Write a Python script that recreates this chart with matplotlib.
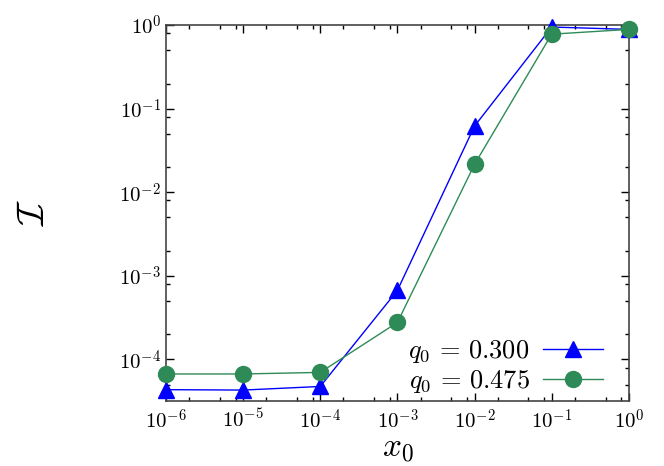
import matplotlib
matplotlib.use("Agg")
import matplotlib.pyplot as plt
import numpy as np
from matplotlib.ticker import LogLocator, NullFormatter, FuncFormatter

plt.rcParams['mathtext.fontset'] = 'cm'
plt.rcParams['font.family'] = 'serif'
plt.rcParams['font.serif'] = ['DejaVu Serif']

x0 = [1e-6, 1e-5, 1e-4, 1e-3, 1e-2, 1e-1, 1e0]
I_q300 = [4.35e-5, 4.3e-5, 4.75e-5, 6.7e-4, 0.062, 0.95, 0.89]
I_q475 = [6.7e-5, 6.7e-5, 7.0e-5, 2.77e-4, 0.0216, 0.78, 0.89]
labels = [r'$q_0\,=\,0.300$', r'$q_0\,=\,0.475$']

fig = plt.figure(figsize=(6.64, 4.66), dpi=100)
ax = fig.add_axes([0.25, 0.139, 0.697, 0.807])

ax.plot(x0, I_q300, color='#0000ff', marker='^', markersize=11.5, lw=1.0,
        label=labels[0], clip_on=False, zorder=3)
ax.plot(x0, I_q475, color='#2e8b57', marker='o', markersize=11.5, lw=1.0,
        label=labels[1], clip_on=False, zorder=4)

ax.set_xscale('log')
ax.set_yscale('log')
ax.set_xlim(1e-6, 1e0)
ax.set_ylim(10**-4.5, 1e0)

def fmt(v, pos):
    e = int(np.round(np.log10(v)))
    return r'$10^{%d}$' % e

ax.xaxis.set_major_locator(LogLocator(base=10, numticks=20))
ax.yaxis.set_major_locator(LogLocator(base=10, numticks=20))
ax.xaxis.set_major_formatter(FuncFormatter(fmt))
ax.yaxis.set_major_formatter(FuncFormatter(fmt))
ax.xaxis.set_minor_locator(LogLocator(base=10, subs=[2, 5, 8], numticks=20))
ax.yaxis.set_minor_locator(LogLocator(base=10, subs=[2, 5, 8], numticks=20))
ax.xaxis.set_minor_formatter(NullFormatter())
ax.yaxis.set_minor_formatter(NullFormatter())

ax.tick_params(which='both', direction='in', top=True, right=True, labelsize=15)
ax.tick_params(which='major', length=6, width=1)
ax.tick_params(which='minor', length=3, width=1)
ax.tick_params(axis='x', pad=5)
for s in ax.spines.values():
    s.set_linewidth(1.2)
    s.set_color('#444444')

ax.set_xlabel(r'$x_0$', fontsize=24, labelpad=0)
ax.set_ylabel(r'$\mathcal{I}$', fontsize=28, labelpad=48)

leg = ax.legend(loc='lower right', frameon=False, markerfirst=False, fontsize=19,
                handlelength=2.3, borderaxespad=0.0, labelspacing=0.12,
                handletextpad=0.5, bbox_to_anchor=(0.968, -0.012))

fig.savefig('out.png', dpi=100)
